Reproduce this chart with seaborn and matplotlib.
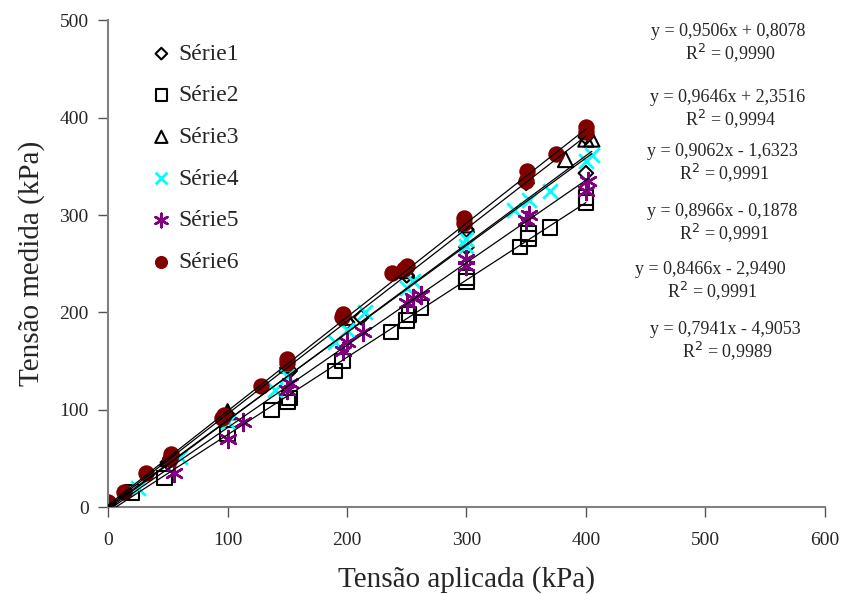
import seaborn as sns
import matplotlib.pyplot as plt
import numpy as np
import pandas as pd

sns.set_style("white")
plt.rcParams['font.family'] = ['Liberation Serif', 'DejaVu Serif']

series = ["Série1", "Série2", "Série3", "Série4", "Série5", "Série6"]

x1 = [0, 50, 52, 100, 150, 152, 200, 212, 250, 300, 300, 350, 400, 400]
y1 = [0, 46, 50, 95, 143, 140, 190, 195, 238, 267, 285, 333, 343, 380]
x2 = [0, 20, 47, 100, 137, 150, 152, 190, 196, 237, 250, 252, 262, 300, 300, 345, 352, 352, 370, 400, 400]
y2 = [0, 15, 30, 75, 100, 108, 112, 140, 150, 180, 192, 198, 205, 232, 236, 267, 276, 281, 287, 313, 318]
x3 = [0, 50, 100, 150, 200, 250, 300, 350, 383, 400, 405]
y3 = [2, 50, 98, 146, 195, 243, 290, 340, 357, 378, 378]
x4 = [0, 25, 60, 100, 140, 150, 190, 200, 215, 250, 255, 300, 300, 340, 352, 370, 400, 405]
y4 = [0, 20, 52, 88, 120, 135, 170, 182, 200, 225, 232, 268, 275, 305, 315, 325, 355, 362]
x5 = [0, 55, 100, 113, 150, 152, 197, 200, 213, 250, 255, 262, 300, 300, 350, 352, 400, 402]
y5 = [0, 35, 70, 88, 120, 128, 160, 170, 180, 210, 215, 218, 248, 255, 295, 300, 325, 335]
x6 = [0, 13, 32, 52, 53, 95, 97, 128, 150, 150, 196, 197, 238, 248, 250, 298, 298, 350, 351, 375, 400, 400]
y6 = [5, 16, 35, 50, 55, 92, 95, 124, 148, 152, 195, 198, 240, 245, 248, 292, 297, 335, 345, 363, 385, 390]

slopes = [0.9506, 0.9646, 0.9062, 0.8966, 0.8466, 0.7941]
intercepts = [0.8078, 2.3516, -1.6323, -0.1878, -2.9490, -4.9053]
r2 = ["0,9990", "0,9994", "0,9991", "0,9991", "0,9991", "0,9989"]
eq_labels = ["y = 0,9506x + 0,8078", "y = 0,9646x + 2,3516", "y = 0,9062x - 1,6323",
             "y = 0,8966x - 0,1878", "y = 0,8466x - 2,9490", "y = 0,7941x - 4,9053"]

xs = [x1, x2, x3, x4, x5, x6]
ys = [y1, y2, y3, y4, y5, y6]

styles = [
    dict(marker="D", s=55, facecolor="none", edgecolor="black", linewidth=1.5),
    dict(marker="s", s=110, facecolor="none", edgecolor="black", linewidth=1.5),
    dict(marker="^", s=120, facecolor="none", edgecolor="black", linewidth=1.5),
    dict(marker="x", s=110, color="#00FFFF", linewidth=2),
    dict(marker=(6, 2, 0), s=150, color="#800080", linewidth=1.8),
    dict(marker="o", s=140, color="#800000", edgecolor="#800000", linewidth=0),
]

fig = plt.figure(figsize=(8.45, 5.94), dpi=100)
ax = fig.add_axes([0.128, 0.146, 0.848, 0.82])

# trend lines (from the fitted equations)
for i in range(6):
    xl = np.array([0, max(xs[i])])
    sns.lineplot(x=xl, y=slopes[i] * xl + intercepts[i], color="black", linewidth=0.9, ax=ax, zorder=3)

for i, name in enumerate(series):
    df = pd.DataFrame({"x": xs[i], "y": ys[i]})
    sns.scatterplot(data=df, x="x", y="y", ax=ax, label=name, zorder=2, **styles[i])

ax.set_xlim(0, 600)
ax.set_ylim(0, 500)
ax.set_xticks(range(0, 601, 100))
ax.set_yticks(range(0, 501, 100))
ax.tick_params(axis="both", labelsize=14, direction="out", length=7, width=1, color="#555555", left=True, bottom=True)
ax.tick_params(axis="x", pad=11)
ax.tick_params(axis="y", pad=7)
for s in ["top", "right"]:
    ax.spines[s].set_visible(False)
for s in ["left", "bottom"]:
    ax.spines[s].set_color("#808080")
    ax.spines[s].set_linewidth(1.5)
ax.set_xlabel("Tensão aplicada (kPa)", fontsize=21, labelpad=12)
ax.set_ylabel("Tensão medida (kPa)", fontsize=21, labelpad=10)

ax.legend(loc="upper left", bbox_to_anchor=(0.038, 0.972), frameon=False, fontsize=17,
          handletextpad=0.0, handlelength=1.4, labelspacing=0.85, borderaxespad=0.0, markerscale=0.8)

eq_y = [32, 98, 152, 212, 270, 330]
eq_x = [728, 728, 722, 722, 710, 725]
for i in range(6):
    fig.text(eq_x[i] / 845, 1 - eq_y[i] / 594, eq_labels[i], ha="center", va="center", fontsize=13)
    fig.text(eq_x[i] / 845 + 0.003, 1 - (eq_y[i] + 21) / 594, "R$^2$ = " + r2[i], ha="center", va="center", fontsize=13)

fig.savefig("out.png", dpi=100)
